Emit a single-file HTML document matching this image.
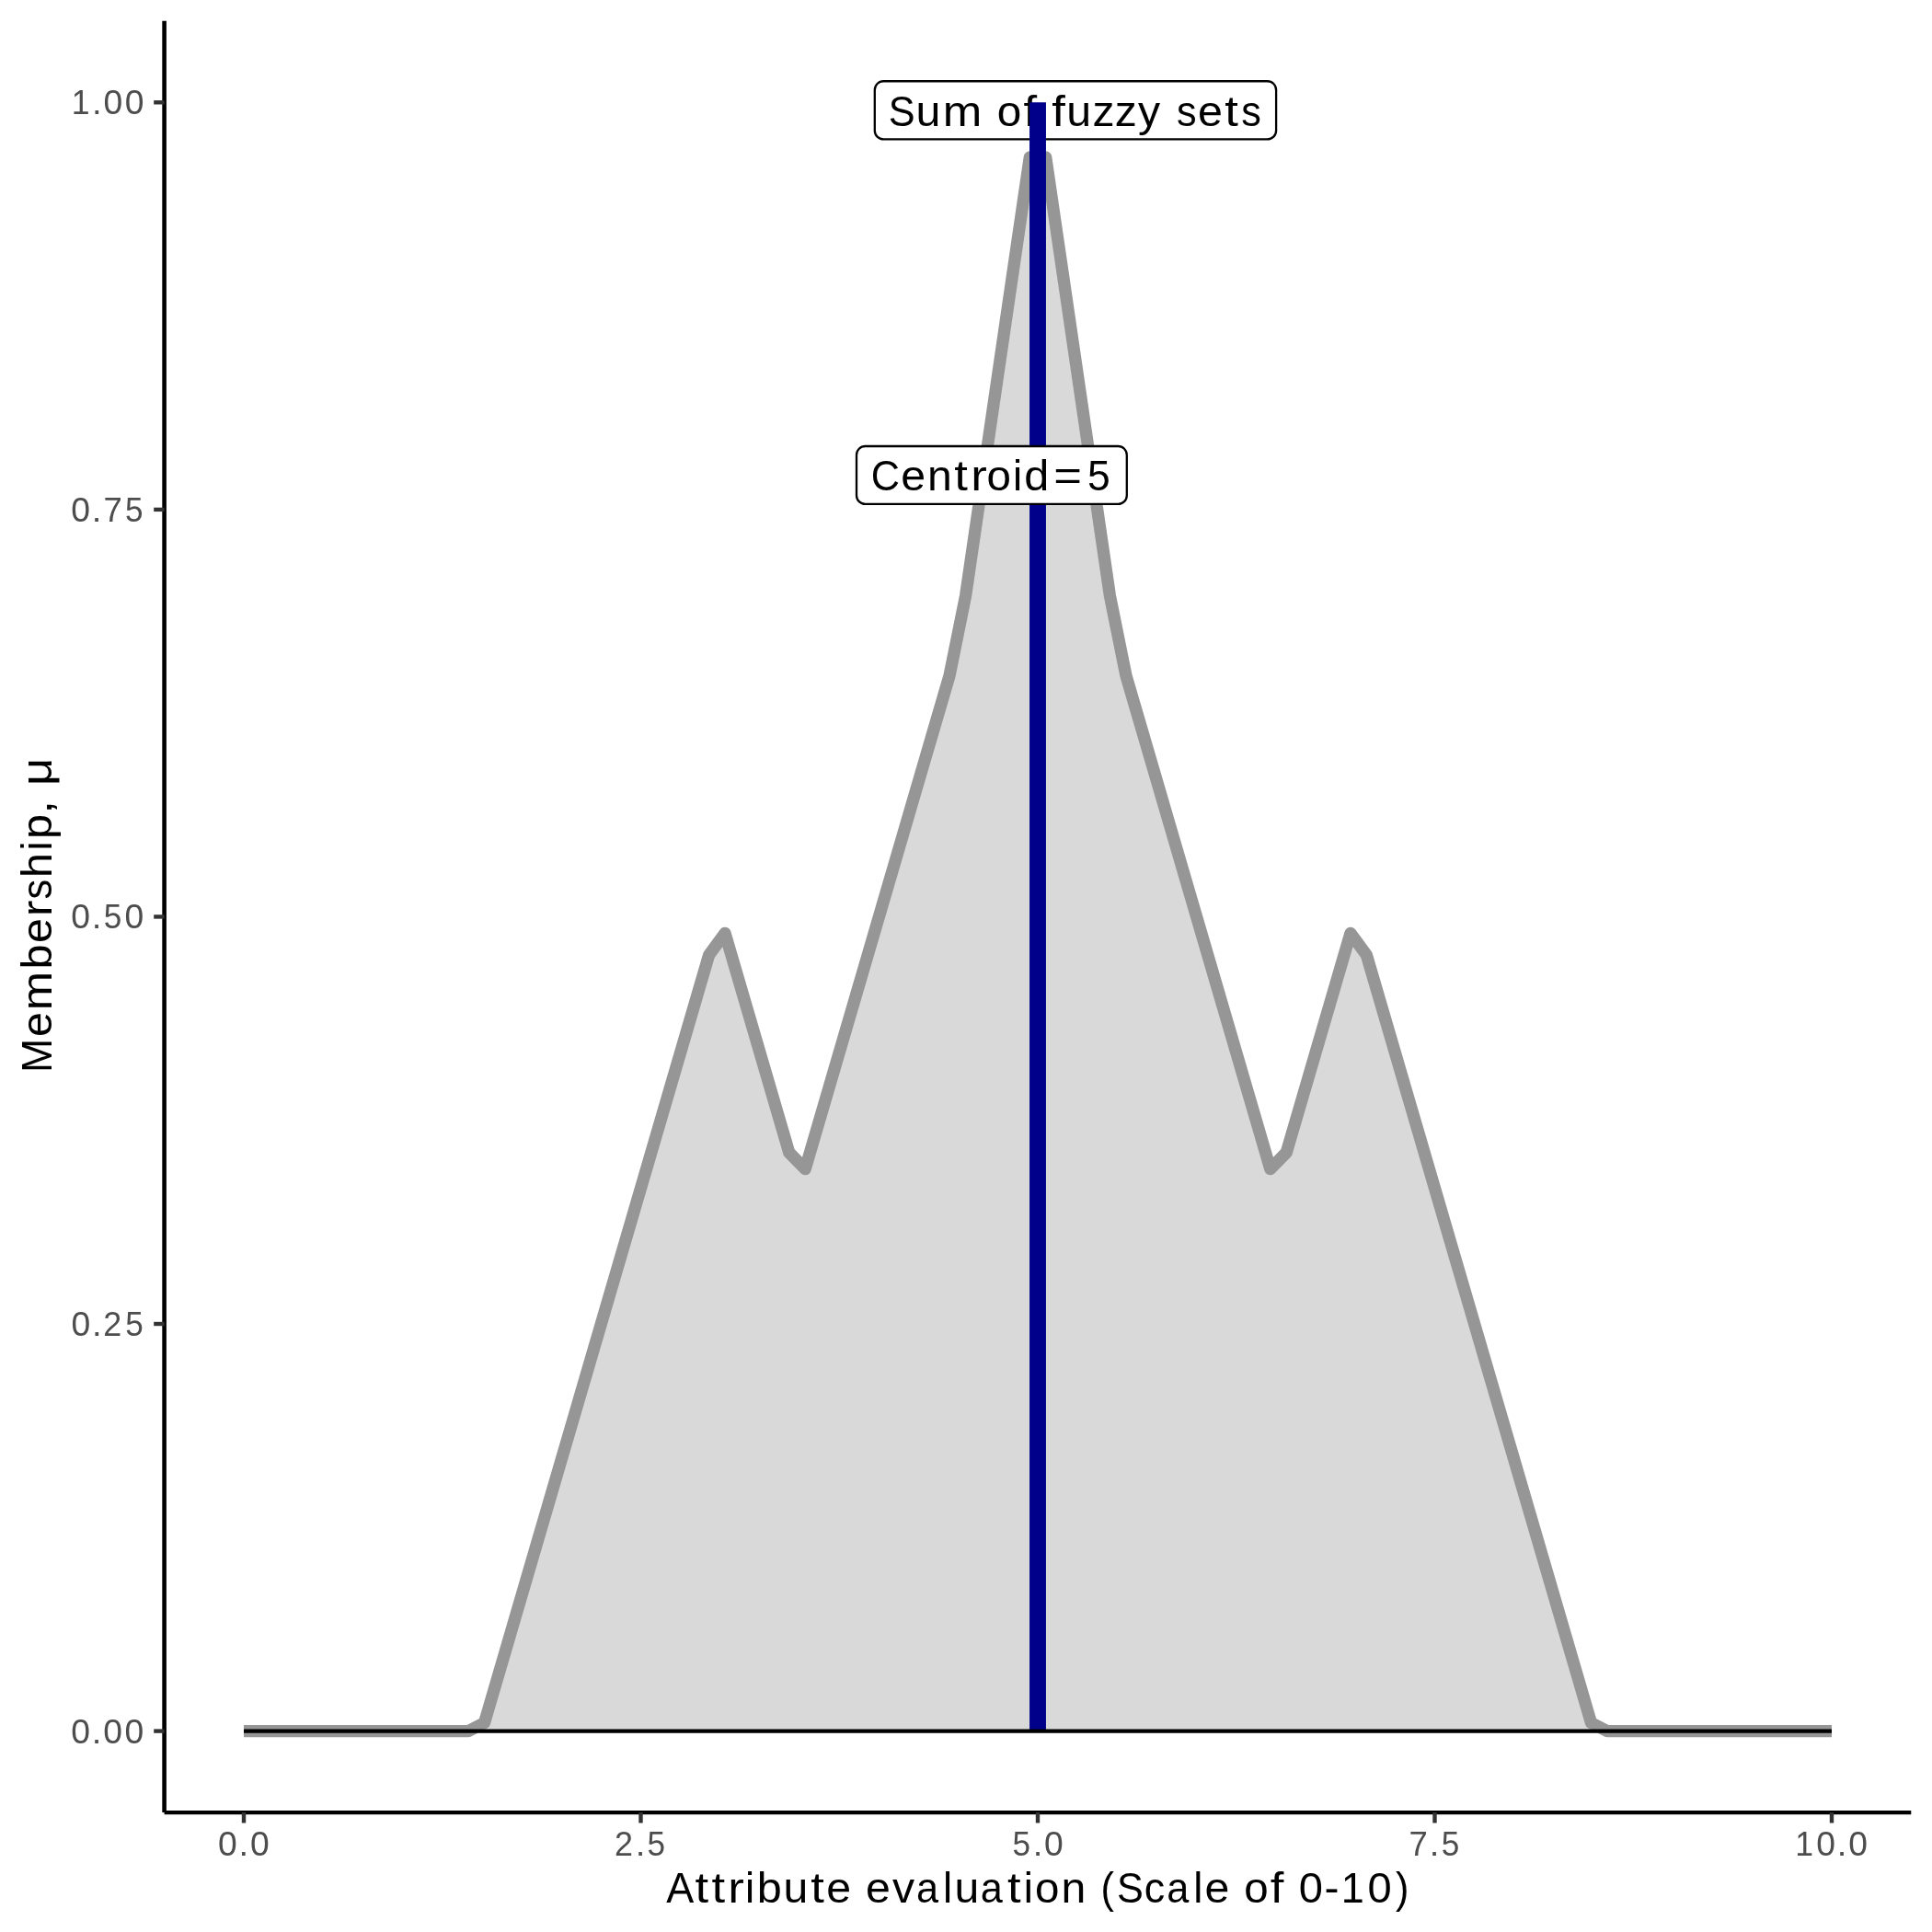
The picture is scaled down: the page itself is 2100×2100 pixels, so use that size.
<!DOCTYPE html>
<html><head><meta charset="utf-8"><title>Sum of fuzzy sets</title>
<style>
html,body{margin:0;padding:0;background:#fff;}
body{width:2100px;height:2100px;overflow:hidden;}
svg{display:block;will-change:transform;}
text{font-family:"Liberation Sans",sans-serif;white-space:pre;}
.lab,.ttl{font-size:47.0px;fill:#000;}
.tk{font-size:36.5px;fill:#4d4d4d;}
</style></head>
<body>
<svg width="2100" height="2100" viewBox="0 0 2100 2100">
<rect x="0" y="0" width="2100" height="2100" fill="#fff"/>
<path d="M265.00,1881.60 L509.08,1881.60 L526.52,1872.66 L770.60,1038.17 L788.03,1014.33 L857.77,1252.76 L875.20,1270.64 L1032.11,734.18 L1049.55,647.75 L1119.28,170.91 L1136.72,170.91 L1206.45,647.75 L1223.89,734.18 L1380.80,1270.64 L1398.23,1252.76 L1467.97,1014.33 L1485.40,1038.17 L1729.48,1872.66 L1746.92,1881.60 L1991.00,1881.60 L1991.00,1881.60 L265.00,1881.60 Z" fill="#d9d9d9"/>
<path d="M265.00,1881.60 L509.08,1881.60 L526.52,1872.66 L770.60,1038.17 L788.03,1014.33 L857.77,1252.76 L875.20,1270.64 L1032.11,734.18 L1049.55,647.75 L1119.28,170.91 L1136.72,170.91 L1206.45,647.75 L1223.89,734.18 L1380.80,1270.64 L1398.23,1252.76 L1467.97,1014.33 L1485.40,1038.17 L1729.48,1872.66 L1746.92,1881.60 L1991.00,1881.60" fill="none" stroke="#969696" stroke-width="13.3" stroke-linejoin="round"/>
<rect x="950.8" y="88.25" width="436.3" height="63.15" rx="9.5" ry="9.5" fill="#fff" stroke="#000" stroke-width="2.3"/>
<text id="lab1" class="lab" y="137.00"><tspan x="965.69" textLength="28.84" lengthAdjust="spacingAndGlyphs">S</tspan><tspan x="995.49" textLength="26.89" lengthAdjust="spacingAndGlyphs">u</tspan><tspan x="1024.85" textLength="42.56" lengthAdjust="spacingAndGlyphs">m</tspan> <tspan x="1083.84" textLength="26.51" lengthAdjust="spacingAndGlyphs">o</tspan><tspan x="1112.49" textLength="14.63" lengthAdjust="spacingAndGlyphs">f</tspan> <tspan x="1143.30" textLength="14.63" lengthAdjust="spacingAndGlyphs">f</tspan><tspan x="1159.18" textLength="26.89" lengthAdjust="spacingAndGlyphs">u</tspan><tspan x="1187.58" textLength="24.02" lengthAdjust="spacingAndGlyphs">z</tspan><tspan x="1211.72" textLength="24.02" lengthAdjust="spacingAndGlyphs">z</tspan><tspan x="1237.13" textLength="24.08" lengthAdjust="spacingAndGlyphs">y</tspan> <tspan x="1278.88" textLength="21.62" lengthAdjust="spacingAndGlyphs">s</tspan><tspan x="1302.14" textLength="26.93" lengthAdjust="spacingAndGlyphs">e</tspan><tspan x="1331.22" textLength="14.63" lengthAdjust="spacingAndGlyphs">t</tspan><tspan x="1349.16" textLength="21.62" lengthAdjust="spacingAndGlyphs">s</tspan></text>
<line x1="1128.00" y1="111.20" x2="1128.00" y2="1881.60" stroke="#00008b" stroke-width="17.9"/>
<rect x="931" y="485" width="293.8" height="62.95" rx="9.5" ry="9.5" fill="#fff" stroke="#000" stroke-width="2.3"/>
<text id="lab2" class="lab" y="532.80"><tspan x="946.74" textLength="31.23" lengthAdjust="spacingAndGlyphs">C</tspan><tspan x="979.35" textLength="26.84" lengthAdjust="spacingAndGlyphs">e</tspan><tspan x="1008.00" textLength="26.79" lengthAdjust="spacingAndGlyphs">n</tspan><tspan x="1037.36" textLength="14.63" lengthAdjust="spacingAndGlyphs">t</tspan><tspan x="1055.22" textLength="17.53" lengthAdjust="spacingAndGlyphs">r</tspan><tspan x="1072.45" textLength="26.42" lengthAdjust="spacingAndGlyphs">o</tspan><tspan x="1100.98" textLength="10.15" lengthAdjust="spacingAndGlyphs">i</tspan><tspan x="1113.17" textLength="27.01" lengthAdjust="spacingAndGlyphs">d</tspan><tspan x="1145.34" textLength="30.74" lengthAdjust="spacingAndGlyphs">=</tspan><tspan x="1181.92" textLength="24.72" lengthAdjust="spacingAndGlyphs">5</tspan></text>
<line x1="265.00" y1="1881.60" x2="1991.00" y2="1881.60" stroke="#000" stroke-width="4.4"/>
<line x1="178.6" y1="22.8" x2="178.6" y2="1970.1" stroke="#000" stroke-width="4.6"/>
<line x1="178.6" y1="1970.1" x2="2077.3" y2="1970.1" stroke="#000" stroke-width="4.3"/>
<line x1="167.2" y1="1881.60" x2="178.6" y2="1881.60" stroke="#333" stroke-width="4.4"/>
<text id="y0.00" class="tk" y="1894.60"><tspan x="77.32" textLength="20.75" lengthAdjust="spacingAndGlyphs">0</tspan><tspan x="99.86" textLength="10.64" lengthAdjust="spacingAndGlyphs">.</tspan><tspan x="112.31" textLength="20.75" lengthAdjust="spacingAndGlyphs">0</tspan><tspan x="135.64" textLength="20.75" lengthAdjust="spacingAndGlyphs">0</tspan></text>
<line x1="167.2" y1="1439.02" x2="178.6" y2="1439.02" stroke="#333" stroke-width="4.4"/>
<text id="y0.25" class="tk" y="1452.02"><tspan x="77.40" textLength="20.75" lengthAdjust="spacingAndGlyphs">0</tspan><tspan x="99.94" textLength="10.64" lengthAdjust="spacingAndGlyphs">.</tspan><tspan x="112.28" textLength="20.00" lengthAdjust="spacingAndGlyphs">2</tspan><tspan x="136.16" textLength="19.58" lengthAdjust="spacingAndGlyphs">5</tspan></text>
<line x1="167.2" y1="996.45" x2="178.6" y2="996.45" stroke="#333" stroke-width="4.4"/>
<text id="y0.50" class="tk" y="1009.45"><tspan x="77.32" textLength="20.75" lengthAdjust="spacingAndGlyphs">0</tspan><tspan x="99.86" textLength="10.64" lengthAdjust="spacingAndGlyphs">.</tspan><tspan x="112.74" textLength="19.58" lengthAdjust="spacingAndGlyphs">5</tspan><tspan x="135.64" textLength="20.75" lengthAdjust="spacingAndGlyphs">0</tspan></text>
<line x1="167.2" y1="553.88" x2="178.6" y2="553.88" stroke="#333" stroke-width="4.4"/>
<text id="y0.75" class="tk" y="566.88"><tspan x="77.35" textLength="20.75" lengthAdjust="spacingAndGlyphs">0</tspan><tspan x="99.89" textLength="10.64" lengthAdjust="spacingAndGlyphs">.</tspan><tspan x="112.49" textLength="20.29" lengthAdjust="spacingAndGlyphs">7</tspan><tspan x="136.11" textLength="19.58" lengthAdjust="spacingAndGlyphs">5</tspan></text>
<line x1="167.2" y1="111.30" x2="178.6" y2="111.30" stroke="#333" stroke-width="4.4"/>
<text id="y1.00" class="tk" y="124.30"><tspan x="77.77" textLength="19.81" lengthAdjust="spacingAndGlyphs">1</tspan><tspan x="100.00" textLength="10.64" lengthAdjust="spacingAndGlyphs">.</tspan><tspan x="112.45" textLength="20.75" lengthAdjust="spacingAndGlyphs">0</tspan><tspan x="135.78" textLength="20.75" lengthAdjust="spacingAndGlyphs">0</tspan></text>
<line x1="265.00" y1="1970.1" x2="265.00" y2="1981.5" stroke="#333" stroke-width="4.4"/>
<text id="x0.0" class="tk" y="2016.90"><tspan x="237.08" textLength="20.75" lengthAdjust="spacingAndGlyphs">0</tspan><tspan x="259.62" textLength="10.64" lengthAdjust="spacingAndGlyphs">.</tspan><tspan x="272.07" textLength="20.75" lengthAdjust="spacingAndGlyphs">0</tspan></text>
<line x1="696.50" y1="1970.1" x2="696.50" y2="1981.5" stroke="#333" stroke-width="4.4"/>
<text id="x2.5" class="tk" y="2016.90"><tspan x="668.08" textLength="20.00" lengthAdjust="spacingAndGlyphs">2</tspan><tspan x="690.72" textLength="10.64" lengthAdjust="spacingAndGlyphs">.</tspan><tspan x="703.61" textLength="19.58" lengthAdjust="spacingAndGlyphs">5</tspan></text>
<line x1="1128.00" y1="1970.1" x2="1128.00" y2="1981.5" stroke="#333" stroke-width="4.4"/>
<text id="x5.0" class="tk" y="2016.90"><tspan x="1100.57" textLength="19.58" lengthAdjust="spacingAndGlyphs">5</tspan><tspan x="1122.67" textLength="10.64" lengthAdjust="spacingAndGlyphs">.</tspan><tspan x="1135.11" textLength="20.75" lengthAdjust="spacingAndGlyphs">0</tspan></text>
<line x1="1559.50" y1="1970.1" x2="1559.50" y2="1981.5" stroke="#333" stroke-width="4.4"/>
<text id="x7.5" class="tk" y="2016.90"><tspan x="1531.38" textLength="20.29" lengthAdjust="spacingAndGlyphs">7</tspan><tspan x="1553.76" textLength="10.64" lengthAdjust="spacingAndGlyphs">.</tspan><tspan x="1566.65" textLength="19.58" lengthAdjust="spacingAndGlyphs">5</tspan></text>
<line x1="1991.00" y1="1970.1" x2="1991.00" y2="1981.5" stroke="#333" stroke-width="4.4"/>
<text id="x10.0" class="tk" y="2016.90"><tspan x="1951.22" textLength="19.81" lengthAdjust="spacingAndGlyphs">1</tspan><tspan x="1974.24" textLength="20.75" lengthAdjust="spacingAndGlyphs">0</tspan><tspan x="1996.78" textLength="10.64" lengthAdjust="spacingAndGlyphs">.</tspan><tspan x="2009.23" textLength="20.75" lengthAdjust="spacingAndGlyphs">0</tspan></text>
<text id="xt" class="ttl" y="2068.00"><tspan x="724.17" textLength="30.01" lengthAdjust="spacingAndGlyphs">A</tspan><tspan x="755.58" textLength="14.63" lengthAdjust="spacingAndGlyphs">t</tspan><tspan x="773.54" textLength="14.63" lengthAdjust="spacingAndGlyphs">t</tspan><tspan x="791.39" textLength="17.53" lengthAdjust="spacingAndGlyphs">r</tspan><tspan x="810.12" textLength="10.14" lengthAdjust="spacingAndGlyphs">i</tspan><tspan x="822.84" textLength="27.02" lengthAdjust="spacingAndGlyphs">b</tspan><tspan x="851.63" textLength="26.78" lengthAdjust="spacingAndGlyphs">u</tspan><tspan x="881.17" textLength="14.63" lengthAdjust="spacingAndGlyphs">t</tspan><tspan x="898.37" textLength="26.83" lengthAdjust="spacingAndGlyphs">e</tspan> <tspan x="941.11" textLength="26.83" lengthAdjust="spacingAndGlyphs">e</tspan><tspan x="970.03" textLength="24.10" lengthAdjust="spacingAndGlyphs">v</tspan><tspan x="996.03" textLength="24.05" lengthAdjust="spacingAndGlyphs">a</tspan><tspan x="1025.00" textLength="10.14" lengthAdjust="spacingAndGlyphs">l</tspan><tspan x="1037.46" textLength="26.78" lengthAdjust="spacingAndGlyphs">u</tspan><tspan x="1065.86" textLength="24.05" lengthAdjust="spacingAndGlyphs">a</tspan><tspan x="1095.07" textLength="14.63" lengthAdjust="spacingAndGlyphs">t</tspan><tspan x="1112.81" textLength="10.14" lengthAdjust="spacingAndGlyphs">i</tspan><tspan x="1125.05" textLength="26.41" lengthAdjust="spacingAndGlyphs">o</tspan><tspan x="1153.48" textLength="26.78" lengthAdjust="spacingAndGlyphs">n</tspan> <tspan x="1196.50" textLength="14.40" lengthAdjust="spacingAndGlyphs">(</tspan><tspan x="1214.08" textLength="28.84" lengthAdjust="spacingAndGlyphs">S</tspan><tspan x="1243.67" textLength="22.41" lengthAdjust="spacingAndGlyphs">c</tspan><tspan x="1268.37" textLength="24.05" lengthAdjust="spacingAndGlyphs">a</tspan><tspan x="1297.35" textLength="10.14" lengthAdjust="spacingAndGlyphs">l</tspan><tspan x="1309.55" textLength="26.83" lengthAdjust="spacingAndGlyphs">e</tspan> <tspan x="1352.35" textLength="26.41" lengthAdjust="spacingAndGlyphs">o</tspan><tspan x="1380.85" textLength="14.63" lengthAdjust="spacingAndGlyphs">f</tspan> <tspan x="1411.71" textLength="26.18" lengthAdjust="spacingAndGlyphs">0</tspan><tspan x="1439.63" textLength="16.03" lengthAdjust="spacingAndGlyphs">-</tspan><tspan x="1457.77" textLength="25.01" lengthAdjust="spacingAndGlyphs">1</tspan><tspan x="1486.53" textLength="26.18" lengthAdjust="spacingAndGlyphs">0</tspan><tspan x="1517.02" textLength="14.40" lengthAdjust="spacingAndGlyphs">)</tspan></text>
<text id="yt" class="ttl" transform="translate(55.90,0) rotate(-90)" y="0"><tspan x="-1165.95" textLength="37.08" lengthAdjust="spacingAndGlyphs">M</tspan><tspan x="-1126.90" textLength="26.82" lengthAdjust="spacingAndGlyphs">e</tspan><tspan x="-1098.25" textLength="42.38" lengthAdjust="spacingAndGlyphs">m</tspan><tspan x="-1053.58" textLength="27.01" lengthAdjust="spacingAndGlyphs">b</tspan><tspan x="-1025.05" textLength="26.82" lengthAdjust="spacingAndGlyphs">e</tspan><tspan x="-996.23" textLength="17.53" lengthAdjust="spacingAndGlyphs">r</tspan><tspan x="-977.40" textLength="21.62" lengthAdjust="spacingAndGlyphs">s</tspan><tspan x="-953.90" textLength="26.96" lengthAdjust="spacingAndGlyphs">h</tspan><tspan x="-924.62" textLength="10.14" lengthAdjust="spacingAndGlyphs">i</tspan><tspan x="-911.90" textLength="27.01" lengthAdjust="spacingAndGlyphs">p</tspan><tspan x="-884.65" textLength="14.63" lengthAdjust="spacingAndGlyphs">,</tspan> <tspan x="-854.09" textLength="30.33" lengthAdjust="spacingAndGlyphs">μ</tspan></text>
</svg>
</body></html>
